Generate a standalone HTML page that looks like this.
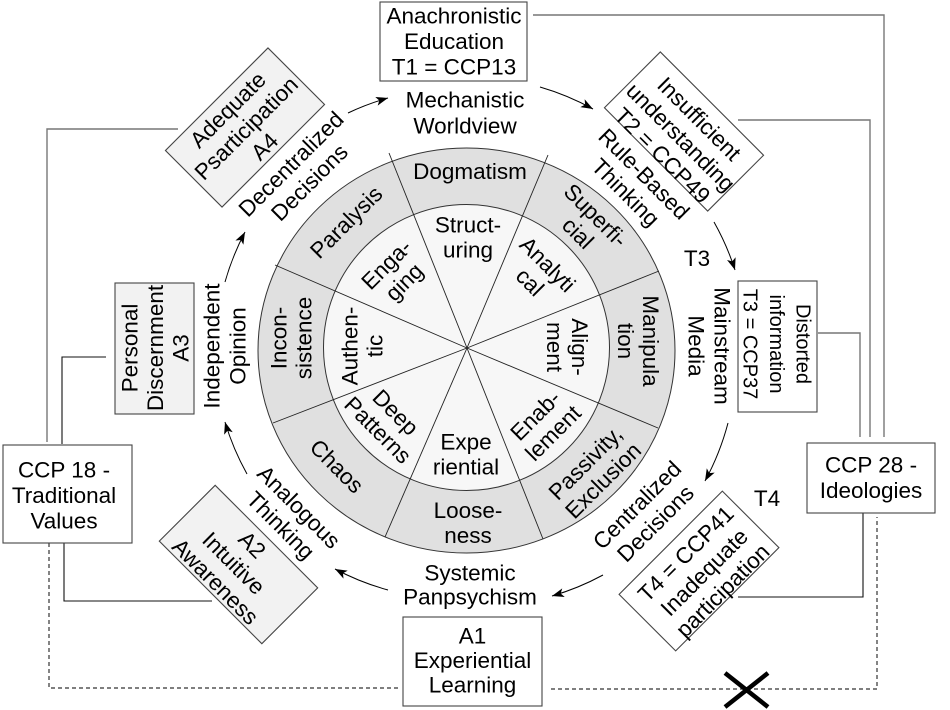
<!DOCTYPE html>
<html><head><meta charset="utf-8"><style>
html,body{margin:0;padding:0;background:#fff;}
svg{display:block;font-family:"Liberation Sans",Arial,sans-serif;font-size:22.5px;}
text{fill:#000;}
</style></head><body>
<svg width="950" height="710" viewBox="0 0 950 710" xmlns="http://www.w3.org/2000/svg">
<defs>
<marker id="ah" markerWidth="13" markerHeight="10" refX="12" refY="5" orient="auto" markerUnits="userSpaceOnUse">
<path d="M0,0.5 L12,5 L0,9.5 L3,5 z" fill="#000"/>
</marker>
</defs>

<!-- connector lines -->
<g fill="none" stroke="#777" stroke-width="1.4">
<path d="M178,129 H47 V442"/>
<path d="M533,15 H884 V437"/>
<path d="M738,120 H870 V437"/>
<path d="M818,333 H860 V437"/>
</g>
<g fill="none" stroke="#111" stroke-width="1.1">
<path d="M106,357 H62 V444"/>
<path d="M64,543 V601 H212"/>
<path d="M738,597 H863 V513"/>
</g>
<g fill="none" stroke="#333" stroke-width="1.2" stroke-dasharray="4 3">
<path d="M49,543 V688 H398"/>
<path d="M551,689 H877 V517"/>
</g>
<path d="M725,673 L768,707 M725,707 L768,673" stroke="#000" stroke-width="4.5"/>

<!-- wheel -->
<ellipse cx="466.5" cy="350.5" rx="208.5" ry="202.5" fill="#e0e0e0" stroke="#333" stroke-width="1"/>
<circle cx="466.5" cy="347.5" r="143" fill="#f7f7f7" stroke="#333" stroke-width="1"/>
<g stroke="#222" stroke-width="0.9">
<line x1="467" y1="348" x2="389" y2="153"/>
<line x1="467" y1="348" x2="548" y2="155"/>
<line x1="467" y1="348" x2="659" y2="271"/>
<line x1="467" y1="348" x2="658" y2="428"/>
<line x1="467" y1="348" x2="543" y2="539"/>
<line x1="467" y1="348" x2="385" y2="537"/>
<line x1="467" y1="348" x2="273" y2="423"/>
<line x1="467" y1="348" x2="275" y2="265"/>
</g>

<!-- outer ring labels -->
<g text-anchor="middle">
<g transform="translate(470,171)"><text x="0" y="8">Dogmatism</text></g>
<g transform="translate(587,224) rotate(45)"><text><tspan x="0" y="-4.5">Superfi-</tspan><tspan x="0" y="20.5">cial</tspan></text></g>
<g transform="translate(638.5,341) rotate(90)"><text><tspan x="0" y="-4.5">Manipula</tspan><tspan x="0" y="20.5">tion</tspan></text></g>
<g transform="translate(594,471.5) rotate(-45)"><text><tspan x="0" y="-4.5">Passivity,</tspan><tspan x="0" y="20.5">Exclusion</tspan></text></g>
<g transform="translate(468,522.5)"><text><tspan x="0" y="-4.5">Loose-</tspan><tspan x="0" y="20.5">ness</tspan></text></g>
<g transform="translate(337,466) rotate(45)"><text x="0" y="8">Chaos</text></g>
<g transform="translate(291,338) rotate(-90)"><text><tspan x="0" y="-4.5">Incon-</tspan><tspan x="0" y="20.5">sistence</tspan></text></g>
<g transform="translate(346,222) rotate(-45)"><text x="0" y="8">Paralysis</text></g>

<!-- inner labels -->
<g transform="translate(468,237)"><text><tspan x="0" y="-4.5">Struct-</tspan><tspan x="0" y="20.5">uring</tspan></text></g>
<g transform="translate(539,273) rotate(45)"><text><tspan x="0" y="-4.5">Analyti</tspan><tspan x="0" y="20.5">cal</tspan></text></g>
<g transform="translate(567.5,347) rotate(90)"><text><tspan x="0" y="-4.5">Align-</tspan><tspan x="0" y="20.5">ment</tspan></text></g>
<g transform="translate(544,424) rotate(-45)"><text><tspan x="0" y="-4.5">Enab-</tspan><tspan x="0" y="20.5">lement</tspan></text></g>
<g transform="translate(466,454)"><text><tspan x="0" y="-4.5">Expe</tspan><tspan x="0" y="20.5">riential</tspan></text></g>
<g transform="translate(387,421) rotate(45)"><text><tspan x="0" y="-4.5">Deep</tspan><tspan x="0" y="20.5">Patterns</tspan></text></g>
<g transform="translate(362,346) rotate(-90)"><text><tspan x="0" y="-4.5">Authen-</tspan><tspan x="0" y="20.5">tic</tspan></text></g>
<g transform="translate(395,273) rotate(-45)"><text><tspan x="0" y="-4.5">Enga-</tspan><tspan x="0" y="20.5">ging</tspan></text></g>

<!-- outside labels -->
<g transform="translate(465,112.5)"><text><tspan x="0" y="-5">Mechanistic</tspan><tspan x="0" y="21">Worldview</tspan></text></g>
<g transform="translate(635,183) rotate(45)"><text><tspan x="0" y="-5">Rule-Based</tspan><tspan x="0" y="21">Thinking</tspan></text></g>
<g transform="translate(709.5,346) rotate(90)"><text><tspan x="0" y="-5">Mainstream</tspan><tspan x="0" y="21">Media</tspan></text></g>
<g transform="translate(646,514) rotate(-45)"><text><tspan x="0" y="-5">Centralized</tspan><tspan x="0" y="21">Decisions</tspan></text></g>
<g transform="translate(470,584.5)"><text><tspan x="0" y="-4">Systemic</tspan><tspan x="0" y="20">Panpsychism</tspan></text></g>
<g transform="translate(290,516) rotate(45)"><text><tspan x="0" y="-5">Analogous</tspan><tspan x="0" y="21">Thinking</tspan></text></g>
<g transform="translate(224.5,346) rotate(-90)"><text><tspan x="0" y="-5">Independent</tspan><tspan x="0" y="21">Opinion</tspan></text></g>
<g transform="translate(300,173) rotate(-45)"><text><tspan x="0" y="-5">Decentralized</tspan><tspan x="0" y="21">Decisions</tspan></text></g>
<text x="697" y="266">T3</text>
<text x="767" y="506">T4</text>
</g>

<!-- arrows -->
<g fill="none" stroke="#000" stroke-width="1" marker-end="url(#ah)">
<path d="M348,113 A260,260 0 0 1 388,98"/>
<path d="M540,87 A260,260 0 0 1 593,109"/>
<path d="M714,222 A260,260 0 0 1 735,270"/>
<path d="M728,423 A260,260 0 0 1 705,481"/>
<path d="M603,575 A260,260 0 0 1 552,596"/>
<path d="M388,590 A260,260 0 0 1 335,569"/>
<path d="M247,474 A260,260 0 0 1 225,422"/>
<path d="M225,282 A260,260 0 0 1 245,232"/>
</g>

<!-- boxes -->
<g stroke="#444" stroke-width="1.1">
<rect x="380" y="2" width="147" height="79" fill="#fff"/>
<rect x="403" y="617" width="139" height="89" fill="#fff"/>
<rect x="3" y="445" width="129" height="98" fill="#fff"/>
<rect x="807" y="443" width="128" height="70" fill="#fff"/>
<rect x="115" y="283" width="79" height="131" fill="#f2f2f2"/>
<rect x="738" y="281" width="79" height="131" fill="#fff"/>
<rect x="-72.5" y="-40" width="145" height="80" fill="#f2f2f2" transform="translate(245,127.5) rotate(-45)"/>
<rect x="-73" y="-39.5" width="146" height="79" fill="#fff" transform="translate(684,131.5) rotate(45)"/>
<rect x="-73" y="-40" width="146" height="80" fill="#fff" transform="translate(699,571) rotate(-45)"/>
<rect x="-72.5" y="-39.5" width="145" height="79" fill="#f2f2f2" transform="translate(238.5,564.5) rotate(45)"/>
</g>

<!-- box texts -->
<g text-anchor="middle">
<g transform="translate(454,41)"><text><tspan x="0" y="-17.5">Anachronistic</tspan><tspan x="0" y="8">Education</tspan><tspan x="0" y="33.5">T1 = CCP13</tspan></text></g>
<g transform="translate(472.5,660)"><text><tspan x="0" y="-16.5">A1</tspan><tspan x="0" y="8">Experiential</tspan><tspan x="0" y="32.5">Learning</tspan></text></g>
<g transform="translate(64,495)"><text><tspan x="0" y="-17.5">CCP 18 -</tspan><tspan x="0" y="8">Traditional</tspan><tspan x="0" y="33.5">Values</tspan></text></g>
<g transform="translate(871,477)"><text><tspan x="0" y="-4.5">CCP 28 -</tspan><tspan x="0" y="21">Ideologies</tspan></text></g>
<g transform="translate(155,348) rotate(-90)"><text><tspan x="0" y="-17.5">Personal</tspan><tspan x="0" y="8">Discernment</tspan><tspan x="0" y="33.5">A3</tspan></text></g>
<g transform="translate(777,344) rotate(90)" style="font-size:20px"><text><tspan x="0" y="-19.5">Distorted</tspan><tspan x="0" y="7">information</tspan><tspan x="0" y="33.5">T3 = CCP37</tspan></text></g>
<g transform="translate(246,128) rotate(-45)"><text><tspan x="0" y="-18">Adequate</tspan><tspan x="0" y="8">Psarticipation</tspan><tspan x="0" y="34">A4</tspan></text></g>
<g transform="translate(681,137) rotate(45)"><text><tspan x="0" y="-18">Insufficient</tspan><tspan x="0" y="8">understanding</tspan><tspan x="0" y="34">T2 = CCP49</tspan></text></g>
<g transform="translate(704,572) rotate(-45)"><text><tspan x="0" y="-18">T4 = CCP41</tspan><tspan x="0" y="8">Inadequate</tspan><tspan x="0" y="34">participation</tspan></text></g>
<g transform="translate(234,563) rotate(45)"><text><tspan x="0" y="-18">A2</tspan><tspan x="0" y="8">Intuitive</tspan><tspan x="0" y="34">Awareness</tspan></text></g>
</g>
</svg>
</body></html>
